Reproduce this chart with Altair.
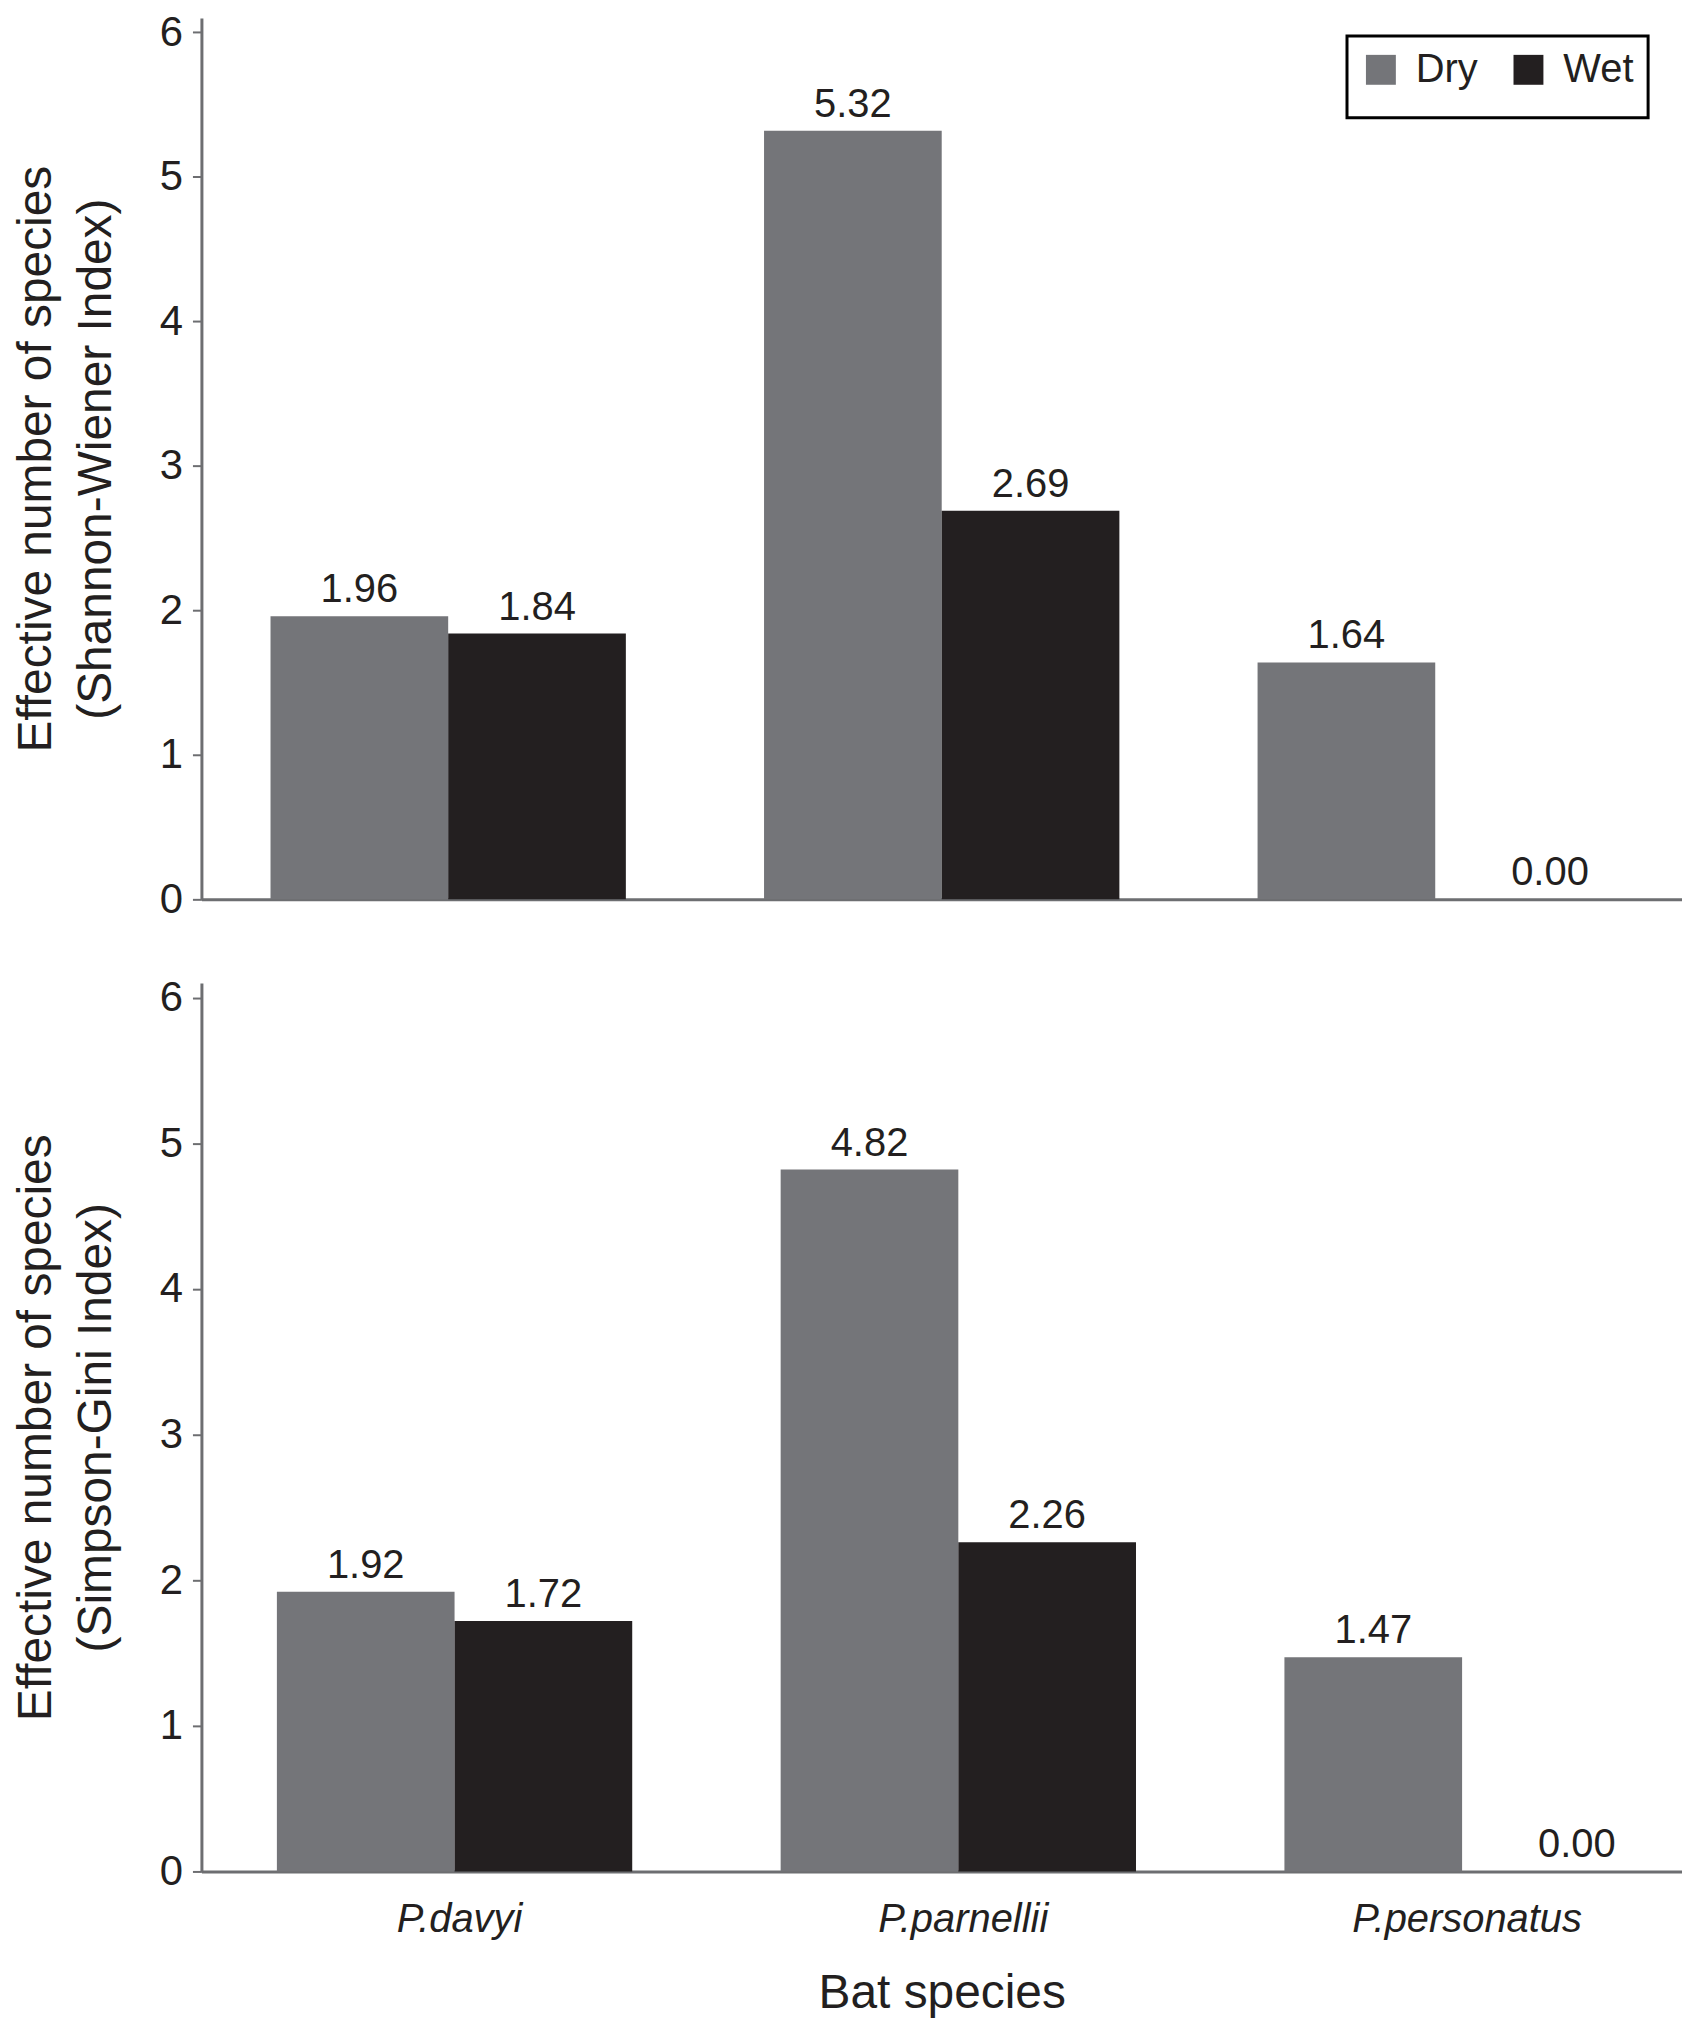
import altair as alt
import pandas as pd

bats = ["P.davyi", "P.parnellii", "P.personatus"]
seasons = ["Dry", "Wet"]
shannon_dry = [1.96, 5.32, 1.64]
shannon_wet = [1.84, 2.69, 0.00]
simpson_dry = [1.92, 4.82, 1.47]
simpson_wet = [1.72, 2.26, 0.00]
y_ticks = [0, 1, 2, 3, 4, 5, 6]
colors = ["#747579", "#231f20"]
ink = "#231f20"
axis_grey = "#6d6e71"


def to_frame(dry, wet):
    rows = []
    for i, b in enumerate(bats):
        rows.append({"bat": b, "season": "Dry", "value": dry[i]})
        rows.append({"bat": b, "season": "Wet", "value": wet[i]})
    df = pd.DataFrame(rows)
    df["label"] = df["value"].map("{:.2f}".format)
    return df


def panel(df, ytitle, bottom, h):
    if bottom:
        xaxis = alt.Axis(title="Bat species", labelAngle=0, labelFontStyle="italic",
                         labelFontSize=40, labelPadding=28, labelLimit=0, titleFontSize=48,
                         titlePadding=30, titleFontWeight="normal", ticks=False,
                         domainColor=axis_grey, domainWidth=3, labelColor=ink, titleColor=ink)
        xscale = alt.Scale(paddingInner=0.275, paddingOuter=0.107, align=0.7)
        legend = None
    else:
        xaxis = alt.Axis(title=None, labels=False, ticks=False,
                         domainColor=axis_grey, domainWidth=3)
        xscale = alt.Scale(paddingInner=0.28, paddingOuter=0.14)
        legend = alt.Legend(title=" ", titleOrient="bottom", titleFontSize=14, titlePadding=0,
                            orient="none", legendX=1149, legendY=18,
                            direction="horizontal", symbolType="square", symbolSize=900,
                            symbolStrokeWidth=0, labelFontSize=40, labelColor=ink,
                            labelOffset=15, columnPadding=30, padding=14,
                            strokeColor="black")

    x = alt.X("bat:N", sort=bats, axis=xaxis, scale=xscale)
    xo = alt.XOffset("season:N", sort=seasons,
                     scale=alt.Scale(paddingInner=0, paddingOuter=0))
    y = alt.Y("value:Q", scale=alt.Scale(domain=[0, 6.1], nice=False),
              axis=alt.Axis(values=y_ticks, title=ytitle, grid=False, format="d",
                            labelFontSize=42, labelPadding=10, labelColor=ink,
                            tickSize=9, tickColor=axis_grey, tickWidth=2,
                            domainColor=axis_grey, domainWidth=3,
                            titleFontSize=48, titleFontWeight="normal", titleColor=ink,
                            titleLineHeight=60, titlePadding=39))
    color = alt.Color("season:N", scale=alt.Scale(domain=seasons, range=colors), legend=legend)

    base = alt.Chart(df)
    bars = base.mark_bar().encode(x=x, xOffset=xo, y=y, color=color)
    labels = base.mark_text(baseline="alphabetic", dy=-14, fontSize=40, color=ink).encode(
        x=x, xOffset=xo, y="value:Q", text="label:N").transform_filter("datum.value > 0")
    zero_labels = base.mark_text(baseline="alphabetic", dy=-14, dx=26, fontSize=40, color=ink).encode(
        x=x, xOffset=xo, y="value:Q", text="label:N").transform_filter("datum.value <= 0")
    return alt.layer(bars, labels, zero_labels).properties(width=1485, height=h)


top = panel(to_frame(shannon_dry, shannon_wet),
            ["Effective number of species", "(Shannon-Wiener Index)"], False, 884)
bottom = panel(to_frame(simpson_dry, simpson_wet),
               ["Effective number of species", "(Simpson-Gini Index)"], True, 891)

chart = alt.vconcat(top, bottom, spacing=56).resolve_legend(color="independent").properties(
    padding={"left": 4, "top": 0, "right": 0, "bottom": 0}
).configure(font="Liberation Sans").configure_view(stroke=None).configure_legend(strokeWidth=3)

chart.save("out.html", embed_options={"renderer": "svg", "actions": False})
